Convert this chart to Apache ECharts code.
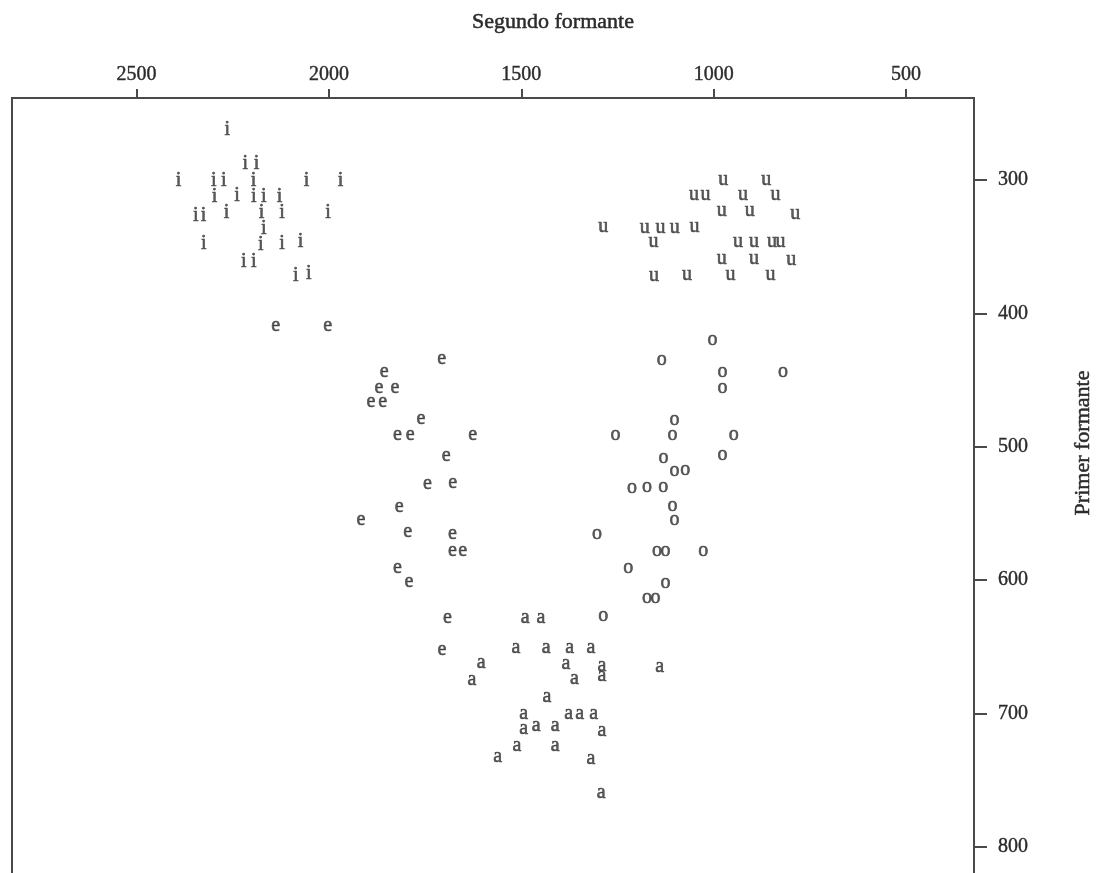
<!DOCTYPE html>
<html>
<head>
<meta charset="utf-8">
<script src="https://cdn.jsdelivr.net/npm/echarts@6/dist/echarts.min.js"></script>
<style>
html,body{margin:0;padding:0;background:#fff;}
#chart{width:1096px;height:873px;}
</style>
</head>
<body>
<div id="chart"></div>
<script>
// [Segundo formante (F2), Primer formante (F1)] in Hz
const vowelI = [[2264,261],[2217,286],[2188,286],[2391,299],[2299,299],[2273,299],[2196,299],[2058,299],[1970,299],[2297,311],[2239,310],[2195,311],[2169,311],[2128,311],[2346,325],[2326,325],[2266,323],[2175,323],[2122,323],[2002,323],[2169,335],[2325,346],[2177,347],[2122,346],[2074,345],[2221,360],[2195,360],[2086,370],[2052,369]];
const vowelU = [[975,300],[863,300],[1051,311],[1021,311],[924,311],[839,311],[979,323],[906,323],[788,325],[1287,335],[1179,336],[1138,336],[1101,336],[1050,335],[1156,346],[937,346],[895,346],[848,346],[826,346],[979,359],[895,359],[798,360],[1155,372],[1069,371],[956,371],[852,371]];
const vowelO = [[1003,420],[1135,435],[977,444],[820,444],[977,456],[1102,480],[1255,491],[1107,491],[948,491],[1130,508],[977,506],[1102,518],[1074,517],[1212,531],[1173,530],[1131,530],[1107,544],[1102,555],[1303,565],[1147,578],[1125,578],[1027,578],[1222,591],[1125,602],[1173,613],[1151,613],[1287,627]];
const vowelE = [[2138,409],[2003,409],[1707,434],[1856,444],[1870,456],[1828,456],[1891,466],[1860,466],[1761,479],[1822,491],[1789,491],[1626,491],[1695,507],[1744,528],[1678,527],[1817,545],[1917,555],[1795,564],[1679,565],[1679,578],[1652,578],[1822,591],[1792,601],[1692,628],[1706,652]];
const vowelA = [[1490,628],[1449,628],[1514,651],[1435,651],[1374,651],[1319,651],[1604,662],[1384,663],[1290,664],[1290,672],[1140,665],[1628,675],[1362,674],[1433,687],[1494,700],[1377,700],[1348,700],[1312,700],[1494,711],[1461,709],[1412,709],[1290,713],[1511,724],[1412,724],[1561,732],[1319,734],[1292,759]];

const xTicks = [2500, 2000, 1500, 1000, 500];
const yTicks = [300, 400, 500, 600, 700, 800];
const xTitle = 'Segundo formante';
const yTitle = 'Primer formante';

const FONT = "'Liberation Serif', 'DejaVu Serif', serif";
const TXT = '#2b2b2b';
const LINE = '#4a4a4a';

function vowelSeries(letter, data, dy) {
  return {
    type: 'scatter',
    name: letter,
    data: data,
    symbol: 'circle',
    symbolSize: 1,
    itemStyle: { color: 'rgba(0,0,0,0)' },
    label: {
      show: true,
      position: 'inside',
      formatter: letter,
      fontFamily: FONT,
      fontSize: 20,
      color: '#333',
      textBorderColor: '#333',
      textBorderWidth: 0.6,
      offset: [0, dy]
    },
    emphasis: { disabled: true },
    silent: true
  };
}

const chart = echarts.init(document.getElementById('chart'), null, { renderer: 'canvas' });
chart.setOption({
  animation: false,
  backgroundColor: '#fff',
  grid: {
    left: 12, top: 98, width: 962, height: 783,
    outerBoundsMode: 'none',
    containLabel: false,
    show: true, borderColor: LINE, borderWidth: 2, backgroundColor: 'transparent'
  },
  xAxis: {
    type: 'value', position: 'top', inverse: true,
    min: 323.3, max: 2823.6,
    axisLine: { show: true, lineStyle: { color: LINE, width: 2 } },
    axisTick: { show: true, inside: false, length: 9, customValues: xTicks, lineStyle: { color: LINE, width: 2 } },
    axisLabel: { show: true, customValues: xTicks, formatter: v => String(v), margin: 13, fontFamily: FONT, fontSize: 20, color: TXT, textBorderColor: TXT, textBorderWidth: 0.4 },
    splitLine: { show: false }
  },
  yAxis: {
    type: 'value', position: 'right', inverse: true,
    min: 238.5, max: 825.5,
    axisLine: { show: true, lineStyle: { color: LINE, width: 2 } },
    axisTick: { show: true, inside: false, length: 13, customValues: yTicks, lineStyle: { color: LINE, width: 2 } },
    axisLabel: { show: true, customValues: yTicks, formatter: v => String(v), margin: 24, fontFamily: FONT, fontSize: 20, color: TXT, textBorderColor: TXT, textBorderWidth: 0.4, padding: [0, 0, 8, 0] },
    splitLine: { show: false }
  },
  graphic: [
    { type: 'text', x: 553, y: 22, style: { text: xTitle, font: "22px " + FONT, fill: TXT, stroke: TXT, lineWidth: 0.5, textAlign: 'center', textVerticalAlign: 'middle' } },
    { type: 'text', x: 1083, y: 443, rotation: Math.PI / 2, style: { text: yTitle, font: "22px " + FONT, fill: TXT, stroke: TXT, lineWidth: 0.5, textAlign: 'center', textVerticalAlign: 'middle' } }
  ],
  series: [
    vowelSeries('i', vowelI, 2),
    vowelSeries('e', vowelE, 0),
    vowelSeries('a', vowelA, 0),
    vowelSeries('o', vowelO, 0),
    vowelSeries('u', vowelU, 0)
  ]
});
</script>
</body>
</html>
